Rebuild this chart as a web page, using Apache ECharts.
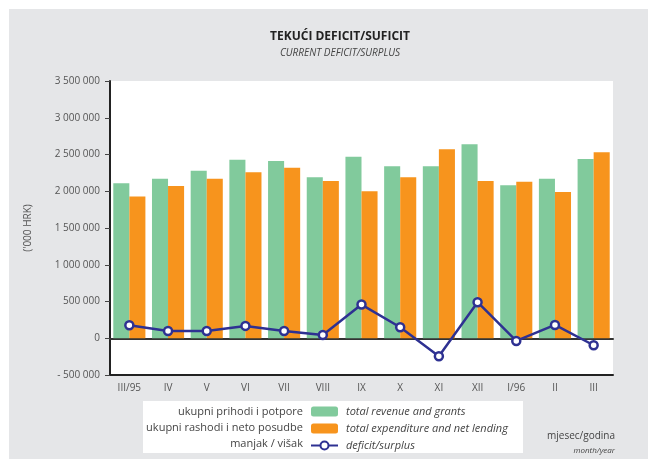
<!DOCTYPE html>
<html>
<head>
<meta charset="utf-8">
<script src="https://cdn.jsdelivr.net/npm/echarts@6/dist/echarts.min.js"></script>
<style>
  html, body {margin: 0; padding: 0; background: #fff;}
  #chart {width: 648px; height: 459px;}
</style>
</head>
<body>
<div id="chart"></div>
<script>
// mjesec/godina
var months = ['III/95', 'IV', 'V', 'VI', 'VII', 'VIII', 'IX', 'X', 'XI', 'XII', 'I/96', 'II', 'III'];
// ukupni prihodi i potpore
var revenue = [2110000, 2170000, 2280000, 2430000, 2410000, 2190000, 2470000, 2340000, 2340000, 2640000, 2080000, 2170000, 2440000];
// ukupni rashodi i neto posudbe
var expenditure = [1930000, 2070000, 2170000, 2260000, 2320000, 2140000, 2000000, 2190000, 2570000, 2140000, 2130000, 1990000, 2530000];
// manjak / višak
var balance = [177000, 99000, 99000, 168000, 99000, 45000, 458000, 150000, -245000, 490000, -37000, 181000, -95000];

var legendHr = ['ukupni prihodi i potpore', 'ukupni rashodi i neto posudbe', 'manjak / višak'];
var legendEn = ['total revenue and grants', 'total expenditure and net lending', 'deficit/surplus'];

var FONT = 'Open Sans';

function fmt(v) {
  var s = String(Math.abs(v)).replace(/\B(?=(\d{3})+(?!\d))/g, ' ');
  return v < 0 ? '- ' + s : s;
}

var chart = echarts.init(document.getElementById('chart'));

var option = {
  backgroundColor: '#fff',
  textStyle: {fontFamily: FONT},
  animation: false,
  title: {
    text: 'TEKUĆI DEFICIT/SUFICIT',
    subtext: 'CURRENT DEFICIT/SURPLUS',
    left: 335,
    textAlign: 'center',
    top: 26,
    itemGap: 5,
    textStyle: {fontSize: 12, fontWeight: 'bold', color: '#222', fontFamily: FONT},
    subtextStyle: {fontSize: 10, fontStyle: 'italic', color: '#444', fontFamily: FONT}
  },
  graphic: [
    {type: 'rect', z: -10, silent: true, shape: {x: 9, y: 9, width: 639, height: 450}, style: {fill: '#e5e6e8'}},
    {type: 'rect', z: -5, silent: true, shape: {x: 143, y: 401, width: 380, height: 52}, style: {fill: '#fff'}},
    {type: 'group', children: legendHr.map(function (t, i) {
      return {type: 'text', x: 303, y: 412 + i * 16, style: {text: t, align: 'right', verticalAlign: 'middle', fill: '#444', font: '11px "' + FONT + '"'}};
    })},
    {type: 'text', x: 615, y: 436, style: {text: 'mjesec/godina', align: 'right', verticalAlign: 'middle', fill: '#444', font: '10px "' + FONT + '"'}},
    {type: 'text', x: 615, y: 451, style: {text: 'month/year', align: 'right', verticalAlign: 'middle', fill: '#444', font: 'italic 8px "' + FONT + '"'}}
  ],
  legend: {
    orient: 'vertical',
    left: 310,
    top: 406,
    itemWidth: 27,
    itemHeight: 10,
    itemGap: 6,
    padding: 0,
    formatter: function (name) { return legendEn[legendHr.indexOf(name)]; },
    textStyle: {fontSize: 11, fontStyle: 'italic', color: '#444', fontFamily: FONT, padding: [0, 0, 0, 3]},
    data: legendHr
  },
  grid: {
    left: 110, right: 35, top: 81, bottom: 84,
    show: true, backgroundColor: '#fff', borderWidth: 0
  },
  xAxis: [
    {
      type: 'category',
      data: months,
      position: 'bottom',
      axisLine: {onZero: false, lineStyle: {color: '#222', width: 2}},
      axisTick: {show: false},
      axisLabel: {color: '#555', fontSize: 10, margin: 8}
    },
    {
      type: 'category',
      data: months,
      position: 'top',
      axisLine: {onZero: true, lineStyle: {color: '#333', width: 2}},
      axisTick: {show: false},
      axisLabel: {show: false}
    }
  ],
  yAxis: {
    type: 'value',
    min: -500000,
    max: 3500000,
    interval: 500000,
    name: "('000 HRK)",
    nameLocation: 'middle',
    nameGap: 77,
    nameRotate: 90,
    nameTextStyle: {color: '#555', fontSize: 10},
    axisLine: {show: true, lineStyle: {color: '#222', width: 2}},
    axisTick: {show: true, inside: false, length: 5, lineStyle: {color: '#444'}},
    axisLabel: {color: '#555', fontSize: 10, margin: 10, formatter: fmt},
    splitLine: {show: false}
  },
  series: [
    {
      name: legendHr[0],
      type: 'bar',
      data: revenue,
      barGap: '0%',
      barCategoryGap: '17%',
      itemStyle: {color: '#81ca9c'}
    },
    {
      name: legendHr[1],
      type: 'bar',
      data: expenditure,
      itemStyle: {color: '#f7941d'}
    },
    {
      name: legendHr[2],
      type: 'line',
      data: balance,
      z: 5,
      symbol: 'circle',
      symbolSize: 8,
      lineStyle: {color: '#2e3192', width: 2.5},
      itemStyle: {color: '#fff', borderColor: '#2e3192', borderWidth: 2.5}
    }
  ]
};

chart.setOption(option);
</script>
</body>
</html>
